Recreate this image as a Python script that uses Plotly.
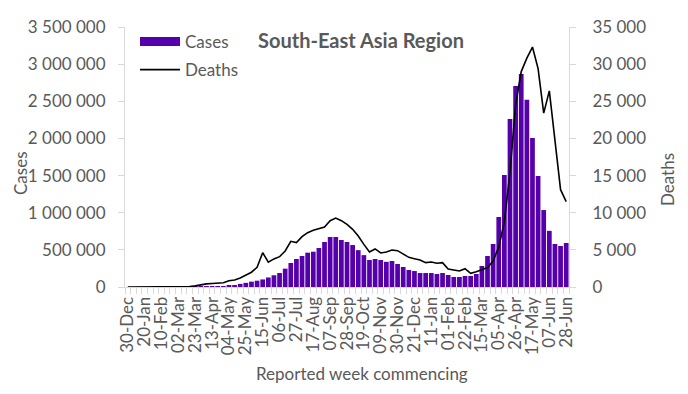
import plotly.graph_objects as go

weeks = [
    "30-Dec", "06-Jan", "13-Jan", "20-Jan", "27-Jan", "03-Feb", "10-Feb", "17-Feb", "24-Feb",
    "02-Mar", "09-Mar", "16-Mar", "23-Mar", "30-Mar", "06-Apr", "13-Apr", "20-Apr", "27-Apr",
    "04-May", "11-May", "18-May", "25-May", "01-Jun", "08-Jun", "15-Jun", "22-Jun", "29-Jun",
    "06-Jul", "13-Jul", "20-Jul", "27-Jul", "03-Aug", "10-Aug", "17-Aug", "24-Aug", "31-Aug",
    "07-Sep", "14-Sep", "21-Sep", "28-Sep", "05-Oct", "12-Oct", "19-Oct", "26-Oct", "02-Nov",
    "09-Nov", "16-Nov", "23-Nov", "30-Nov", "07-Dec", "14-Dec", "21-Dec", "28-Dec",
    "04-Jan", "11-Jan", "18-Jan", "25-Jan", "01-Feb", "08-Feb", "15-Feb", "22-Feb",
    "01-Mar", "08-Mar", "15-Mar", "22-Mar", "29-Mar", "05-Apr", "12-Apr", "19-Apr", "26-Apr",
    "03-May", "10-May", "17-May", "24-May", "31-May", "07-Jun", "14-Jun", "21-Jun", "28-Jun",
]

tick_labels = [
    "30-Dec", "20-Jan", "10-Feb", "02-Mar", "23-Mar", "13-Apr", "04-May", "25-May", "15-Jun",
    "06-Jul", "27-Jul", "17-Aug", "07-Sep", "28-Sep", "19-Oct", "09-Nov", "30-Nov", "21-Dec",
    "11-Jan", "01-Feb", "22-Feb", "15-Mar", "05-Apr", "26-Apr", "17-May", "07-Jun", "28-Jun",
]

cases = [
    0, 0, 0, 5, 10, 5, 0, 0, 5,
    60, 200, 600, 1200, 2000, 2500, 3000, 3500, 4000,
    16000, 26000, 42000, 56000, 72000, 85000, 102000, 128000, 158000,
    188000, 247000, 323000, 377000, 417000, 462000, 475000, 525000, 606000,
    673000, 673000, 633000, 606000, 565000, 496000, 429000, 363000, 377000,
    363000, 339000, 350000, 310000, 269000, 229000, 215000, 188000,
    188000, 188000, 175000, 188000, 162000, 135000, 135000, 148000,
    148000, 175000, 283000, 417000, 579000, 942000, 1508000, 2262000, 2706000,
    2867000, 2521000, 2006000, 1494000, 1036000, 756000, 579000, 552000, 592000,
]

deaths = [
    0, 0, 0, 0, 0, 0, 0, 0, 2,
    10, 30, 60, 150, 300, 420, 480, 520, 580,
    850, 950, 1210, 1560, 1990, 2650, 4620, 3340, 3780,
    4080, 4850, 6150, 5970, 6780, 7310, 7630, 7850, 8080,
    8930, 9270, 8930, 8420, 7760, 6870, 5740, 4710, 5120,
    4580, 4710, 4980, 4890, 4400, 3990, 3810, 3630,
    3280, 3370, 3190, 3280, 2420, 2330, 2150, 2470,
    1840, 2060, 2290, 2600, 3500, 5400, 8800, 15500, 24500,
    29000, 30800, 32300, 29400, 23400, 26400, 19800, 13100, 11500,
]

PURPLE = "#5500AA"
GREY_TXT = "#595959"
AXIS_GREY = "#D9D9D9"
FONT = "Lato"

W, H = 688, 394
L, R, T, B = 125, 119, 27, 107
PW, PH = W - L - R, H - T - B


def px(x, y):
    return (x - L) / PW, 1 - (y - T) / PH


fig = go.Figure()
fig.add_trace(go.Bar(x=weeks, y=cases, name="Cases", marker_color=PURPLE,
                     marker_line_width=0, showlegend=False, yaxis="y"))
# legend proxy for the bars (wide flat swatch like the original)
fig.add_trace(go.Scatter(x=[None], y=[None], mode="lines", name="Cases",
                         line=dict(color=PURPLE, width=9), legendgroup="a"))
fig.add_trace(go.Scatter(x=weeks, y=deaths, name="Deaths", mode="lines",
                         line=dict(color="#000000", width=1.6), yaxis="y2",
                         legendgroup="b"))

ticktext = [w if w in tick_labels else "" for w in weeks]

axis_common = dict(showgrid=False, zeroline=False, showline=True, linecolor=AXIS_GREY,
                   linewidth=1, ticks="outside", ticklen=6, tickcolor=AXIS_GREY,
                   tickfont=dict(family=FONT, size=17, color=GREY_TXT))

fig.update_layout(
    width=W, height=H,
    margin=dict(l=L, r=R, t=T, b=B, autoexpand=False),
    paper_bgcolor="white", plot_bgcolor="white",
    separators=". ",
    bargap=0.16,
    font=dict(family=FONT, size=17, color=GREY_TXT),
    xaxis=dict(type="category", range=[-0.5, len(weeks) - 0.5], tickmode="array",
               tickvals=weeks, ticktext=ticktext, tickson="boundaries", tickangle=-90,
               ticklabelstandoff=2, **axis_common),
    yaxis=dict(range=[0, 3500000], dtick=500000, tickformat=",", ticklabelstandoff=9,
               **axis_common),
    yaxis2=dict(range=[0, 35000], dtick=5000, tickformat=",", overlaying="y",
                side="right", ticklabelstandoff=13, **axis_common),
    legend=dict(x=px(135, 0)[0], y=px(0, 24)[1], xanchor="left", yanchor="top",
                bgcolor="rgba(0,0,0,0)", font=dict(family=FONT, size=17, color=GREY_TXT),
                traceorder="grouped", tracegroupgap=3, itemwidth=40),
)

ann = []
tx, ty = px(361, 40)
ann.append(dict(text="<b>South-East Asia Region</b>", x=tx, y=ty, xref="paper", yref="paper",
                xanchor="center", yanchor="middle", showarrow=False,
                font=dict(family=FONT, size=20, color=GREY_TXT)))
ax, ay = px(20, 173)
ann.append(dict(text="Cases", x=ax, y=ay, xref="paper", yref="paper", textangle=-90,
                xanchor="center", yanchor="middle", showarrow=False,
                font=dict(family=FONT, size=17, color=GREY_TXT)))
dx, dy = px(667, 180)
ann.append(dict(text="Deaths", x=dx, y=dy, xref="paper", yref="paper", textangle=-90,
                xanchor="center", yanchor="middle", showarrow=False,
                font=dict(family=FONT, size=17, color=GREY_TXT)))
rx, ry = px(362, 373)
ann.append(dict(text="Reported week commencing", x=rx, y=ry, xref="paper", yref="paper",
                xanchor="center", yanchor="middle", showarrow=False,
                font=dict(family=FONT, size=17, color=GREY_TXT)))
fig.update_layout(annotations=ann)

fig.write_html("out.html", config={"displayModeBar": False},
               post_script="document.body.style.margin='0';document.body.style.padding='0';")
